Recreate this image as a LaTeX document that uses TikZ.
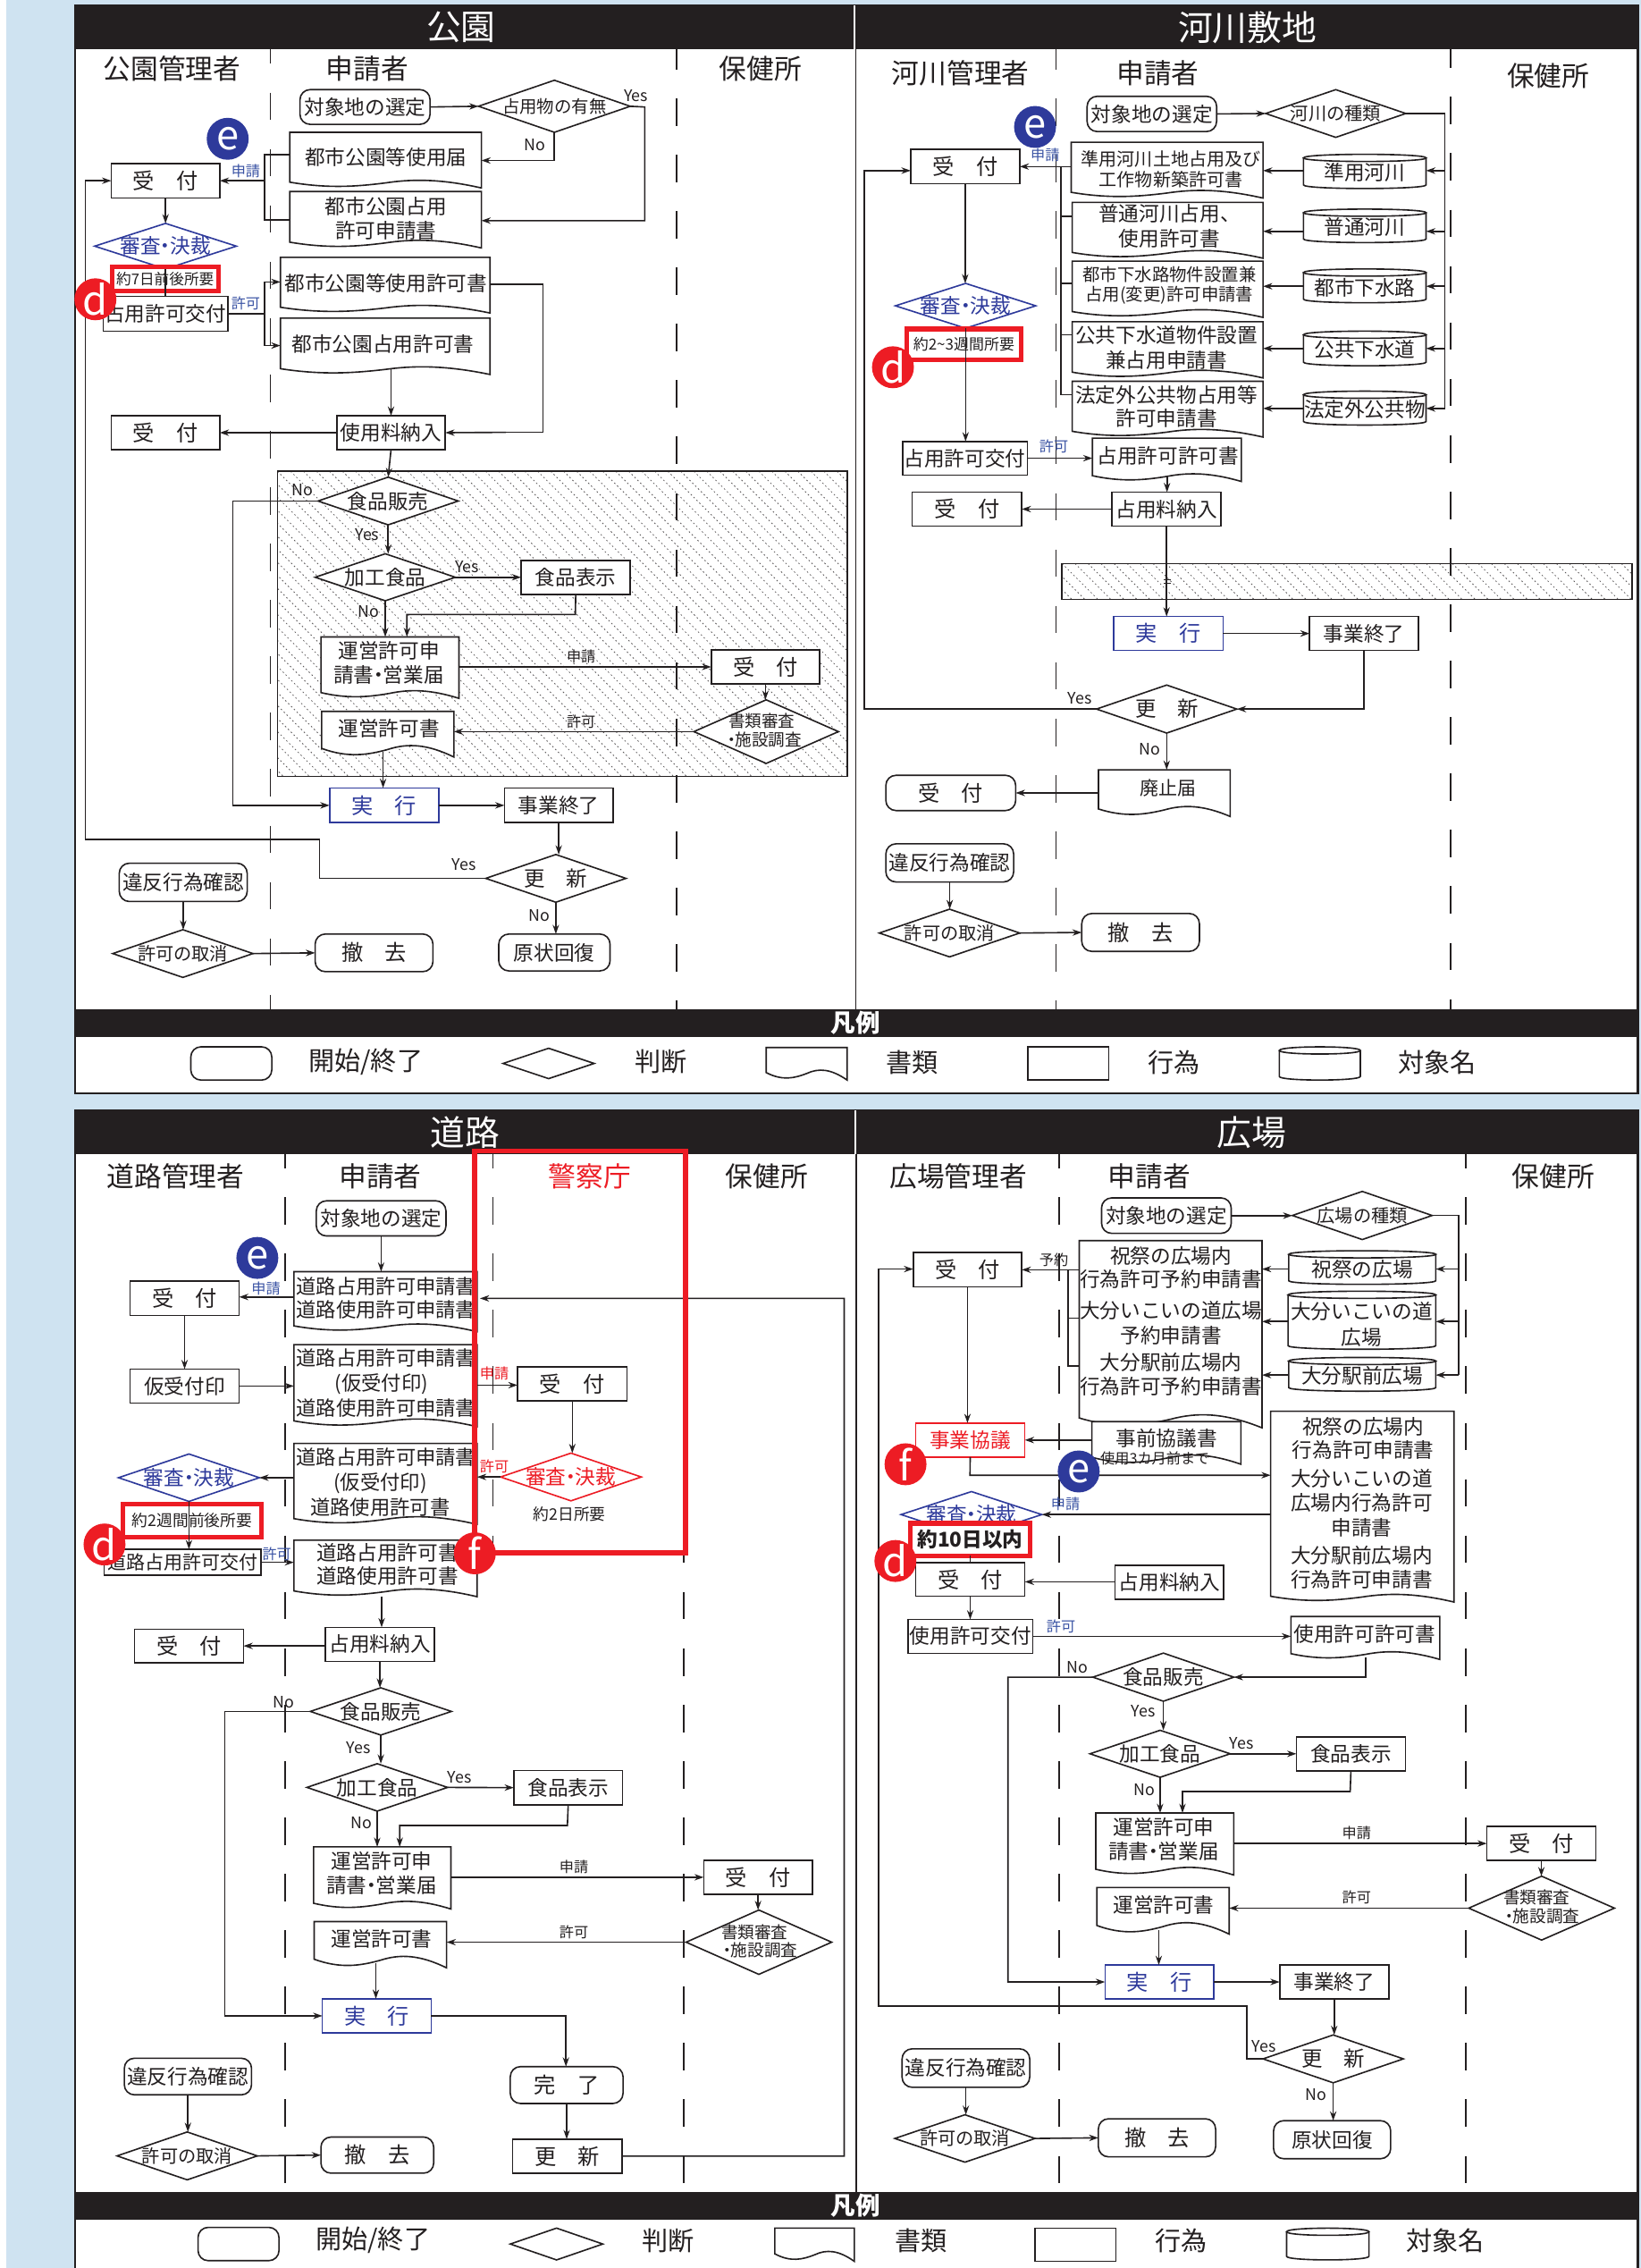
\documentclass[tikz,border=0pt]{standalone}
\usepackage{fontspec}
\setmainfont{Noto Sans CJK JP}
\usetikzlibrary{arrows.meta,calc,shapes.geometric}
\definecolor{ink}{HTML}{231F20}
\definecolor{bgblue}{HTML}{CFE3F1}
\definecolor{jblue}{HTML}{2E3A9B}
\definecolor{lblue}{HTML}{3A53A4}
\definecolor{jred}{HTML}{ED1C24}
\newcommand\fs[1]{\fontsize{\fpeval{#1*0.5}}{\fpeval{#1*0.6}}\selectfont}
\newcommand\ndot{\kern-.27em ・\kern-.27em }
\newcounter{tn}
\newcommand\tx[5][]{\stepcounter{tn}\node[txt,#1] (t\arabic{tn}) at (#2,#3) {\fs{#4}#5};}
\newcommand\bx[8][proc]{%
  \pgfmathsetmacro\WW{(#5-#3)*0.5}\pgfmathsetmacro\HH{(#6-#4)*0.5}%
  \node[#1,minimum width=\WW pt,minimum height=\HH pt] (#2) at ({(#3+#5)/2},{(#4+#6)/2}) {\fs{#7}#8};}
\newcommand\dm[8][dia]{%
  \pgfmathsetmacro\WW{(#5-#3)*0.5}\pgfmathsetmacro\HH{(#6-#4)*0.5}%
  \draw[#1] (#3,{(#4+#6)/2}) -- ({(#3+#5)/2},#4) -- (#5,{(#4+#6)/2}) -- ({(#3+#5)/2},#6) -- cycle;
  \node[#1,draw=none,fill=none,inner sep=0pt,outer sep=0pt,minimum width=\WW pt,minimum height=\HH pt] (#2) at ({(#3+#5)/2},{(#4+#6)/2}) {\fs{#7}#8};}
% document shape: [wave factor]{name}{x1}{y1}{x2}{y2}
\newcommand\dc[6][1]{%
  \pgfmathsetmacro\WW{(#5-#3)*0.5}\pgfmathsetmacro\HH{(#6-#4)*0.5}%
  \draw[shp] (#3,#4) -- (#5,#4) -- (#5,#6)
    .. controls ({#3+0.8*(#5-#3)},{#6-6*#1}) and ({#3+0.65*(#5-#3)},{#6-6.5*#1}) .. ({#3+0.5*(#5-#3)},{#6-3.5*#1})
    .. controls ({#3+0.35*(#5-#3)},{#6-1*#1}) and ({#3+0.2*(#5-#3)},{#6+0.5*#1}) .. (#3,{#6-4*#1}) -- cycle;
  \node[inner sep=0pt,outer sep=0pt,minimum width=\WW pt,minimum height=\HH pt] (#2) at ({(#3+#5)/2},{(#4+#6)/2}) {};}
% cylinder: {name}{x1}{y1}{x2}{y2}{size}{text}
\newcommand\cy[7]{%
  \pgfmathsetmacro\WW{(#4-#2)*0.5}\pgfmathsetmacro\HH{(#5-#3)*0.5}%
  \draw[shp] (#2,#3+2.5) -- (#2,#5-2.5) .. controls (#2,#5+0.8) and (#4,#5+0.8) .. (#4,#5-2.5) -- (#4,#3+2.5);
  \draw[shp] (#2,#3+2.5) .. controls (#2,#3-0.8) and (#4,#3-0.8) .. (#4,#3+2.5) .. controls (#4,#3+5.8) and (#2,#3+5.8) .. cycle;
  \node[inner sep=0pt,outer sep=0pt,text=ink,align=center,minimum width=\WW pt,minimum height=\HH pt] (#1) at ({(#2+#4)/2},{(#3+#5)/2+1}) {\fs{#6}#7};}
\newcommand\hatchbox[4]{%
  \fill[white] (#1,#2) rectangle (#3,#4);
  \begin{scope}
    \clip (#1,#2) rectangle (#3,#4);
    \foreach \i in {-216,-207,...,400}{
      \draw[ink!75,line width=.25pt,dash pattern=on .5pt off .9pt] ({#1+\i},#2) -- ({#1+\i+#4-#2},#4);}
  \end{scope}
  \draw[ink,line width=.5pt] (#1,#2) rectangle (#3,#4);}
\tikzset{
  txt/.style={inner sep=0pt,outer sep=0pt,text=ink,align=center},
  shp/.style={draw=ink,fill=white,line width=.5pt},
  proc/.style={draw=ink,fill=white,line width=.5pt,inner sep=0pt,outer sep=0pt,text=ink,align=center},
  rnd/.style={proc,rounded corners=3.5pt},
  dia/.style={draw=ink,fill=white,line width=.5pt,text=ink,align=center},
  bdia/.style={draw=jblue,fill=white,line width=.5pt,text=jblue,align=center},
  rdia/.style={draw=jred,fill=white,line width=.5pt,text=jred,align=center},
  bluebox/.style={proc,draw=jblue,text=jblue},
  redthin/.style={proc,draw=jred,text=jred},
  redbox/.style={proc,draw=jred,line width=1.6pt},
  ln/.style={draw=ink,line width=.5pt},
  ar/.style={ln,-{Stealth[length=3.2pt,width=2.2pt]}},
  dsh/.style={draw=ink,line width=.55pt,dash pattern=on 9.5pt off 10pt},
  circ/.style={circle,inner sep=0pt,outer sep=0pt,minimum size=14.5pt,text=white,font=\fontsize{14}{14}\selectfont},
}
\begin{document}
\begin{tikzpicture}[x=0.5pt,y=-0.5pt]
\useasboundingbox (0,0) rectangle (1135,1568.6);
\fill[white] (0,0) rectangle (1135,1568.6);
\fill[bgblue] (4.5,0) rectangle (1135,1568.6);
% frames
\fill[white] (52,4) rectangle (1133,756);
\fill[white] (52,768) rectangle (1133,1568.6);
\draw[ink,line width=.7pt] (52,4) rectangle (1133,756);
\draw[ink,line width=.7pt] (52,1568.6) -- (52,768) -- (1133,768) -- (1133,1568.6);
\draw[ink,line width=.6pt] (592,4) -- (592,698);
\draw[ink,line width=.6pt] (592.5,768) -- (592.5,1516);
% hatching
\hatchbox{192}{326}{586}{537}
\hatchbox{734.7}{389.8}{1129}{414.5}
% swimlane separators
\draw[dsh] (187,25) -- (187,698);
\draw[dsh] (468,29) -- (468,698);
\draw[dsh] (730.5,29) -- (730.5,698);
\draw[dsh] (1003.3,28) -- (1003.3,698);
\draw[dsh] (197.2,789) -- (197.2,1516);
\draw[dsh] (341,789) -- (341,1070);
\draw[dsh] (473,789) -- (473,1516);
\draw[dsh] (732.6,789) -- (732.6,1516);
\draw[dsh] (1014,789) -- (1014,1516);
% header bars
\fill[ink] (52,4) rectangle (1133,34);
\fill[ink] (52,698) rectangle (1133,717);
\fill[ink] (52,768) rectangle (1133,798);
\fill[ink] (52,1516) rectangle (1133,1535.5);
\draw[white,line width=.6pt] (591.3,4) -- (591.3,34);
\draw[white,line width=.6pt] (591.8,768) -- (591.8,798);
\tx[text=white]{319}{19}{24}{公園}
\tx[text=white]{863}{19}{24}{河川敷地}
\tx[text=white]{322}{783}{24}{道路}
\tx[text=white]{866}{783}{24}{広場}
\tx[text=white,font=\bfseries]{592}{707.5}{17}{凡例}
\tx[text=white,font=\bfseries]{592}{1525.5}{17}{凡例}
% legends
\bx[rnd]{la1}{132}{724}{188}{747}{14}{}
\tx{253}{734.5}{18}{開始/終了}
\dm{la2}{348}{725}{411}{746}{14}{}
\tx{457}{734.5}{18}{判断}
\dc[1.3]{la3}{530}{724.5}{586}{747}
\tx{631}{734.5}{18}{書類}
\bx{la4}{711}{724}{767}{747}{14}{}
\tx{812}{734.5}{18}{行為}
\cy{la5}{885}{724}{941}{747}{14}{}
\tx{994}{734.5}{18}{対象名}
\bx[rnd]{lb1}{137}{1540.5}{193}{1563.5}{14}{}
\tx{258}{1549.5}{18}{開始/終了}
\dm{lb2}{353}{1541}{417}{1563}{14}{}
\tx{462}{1549.5}{18}{判断}
\dc[1.3]{lb3}{536}{1541}{591}{1564}
\tx{637}{1549.5}{18}{書類}
\bx{lb4}{716}{1541}{772}{1564}{14}{}
\tx{817}{1549.5}{18}{行為}
\cy{lb5}{890}{1541}{947}{1563}{14}{}
\tx{1000}{1549.5}{18}{対象名}
% =================== 公園
\tx{119}{47.5}{19}{公園管理者}
\tx{254}{47.5}{19}{申請者}
\tx{526}{47.5}{19}{保健所}
\bx[rnd]{a1}{207.5}{62}{297.5}{86}{14}{対象地の選定}
\dm{a2}{331}{55.5}{436}{91.5}{12}{占用物の有無}
\dc{a3}{200.5}{91.5}{333}{130}
\tx{267}{109}{14}{都市公園等使用届}
\dc{a4}{200.5}{132.5}{333}{171.5}
\tx{267}{143}{14}{都市公園占用}
\tx{267}{159.5}{14}{許可申請書}
\bx{a5}{77}{113}{152}{137}{15}{受　付}
\dm[bdia]{a6}{65.5}{154.5}{163.5}{186}{14}{審査\ndot 決裁}
\bx[redbox]{a7}{77.5}{184.5}{151}{201.5}{10.3}{約7日前後所要}
\bx{a8}{71.5}{205}{157.5}{229}{14}{占用許可交付}
\dc{a9}{194}{178}{339}{216.5}
\tx{267}{196}{14}{都市公園等使用許可書}
\dc{a10}{194}{220}{339}{259}
\tx{265}{238}{14}{都市公園占用許可書}
\bx{a11}{233}{287.5}{308}{311}{14}{使用料納入}
\bx{a12}{77}{287.5}{152}{311}{15}{受　付}
\dm{a13}{220}{330}{317}{363}{14}{食品販売}
\dm{a14}{218}{383}{315}{415.5}{14}{加工食品}
\bx{a15}{360.5}{387.5}{436}{411}{14}{食品表示}
\dc{a16}{222}{440.5}{317.5}{483}
\tx{269}{450}{14}{運営許可申}
\tx{269}{466.5}{14}{請書\ndot 営業届}
\bx{a17}{492}{449.5}{567}{473}{15}{受　付}
\dm{a18}{480}{484}{580}{528}{11.5}{}
\tx{527}{498.5}{11.5}{書類審査}
\tx{529}{511.5}{11.5}{\ndot 施設調査}
\dc[1.5]{a19}{222.5}{492}{314}{523.6}
\tx{269}{504}{14}{運営許可書}
\bx[bluebox]{a20}{228}{545}{303.5}{569}{15}{実　行}
\bx{a21}{349}{545}{424}{569}{14}{事業終了}
\dm{a22}{336}{591}{433}{624}{14.5}{更　新}
\bx[rnd]{a23}{345}{646}{422}{671.5}{14}{原状回復}
\bx[rnd]{a24}{82.5}{597}{171}{623.5}{14}{違反行為確認}
\dm{a25}{78}{643}{175}{676}{12.5}{許可の取消}
\bx[rnd]{a26}{218}{646}{299.5}{672}{15}{撤　去}
\draw[ar] (a1.east) -- (a2.west);
\draw[ar] (a2.east) -- (446,74) -- (446,152.6) -- (a4.east |- 0,152.6);
\draw[ar] (a2.south) -- (a2.south |- 0,111) -- (a3.east |- 0,111);
\draw[ln] (a3.west |- 0,107) -- (183,107) -- (183,152) -- (a4.west |- 0,152);
\draw[ar] (183,125) -- (a5.east);
\draw[ar] (a5.south) -- (a6.north);
\draw[ln] (a6.south) -- (a8.north);
\draw[ln] (a8.east) -- (183,217);
\draw[ar] (a9.west |- 0,195) -- (183,195) -- (183,239) -- (a10.west |- 0,239);
\draw[ar] (183,195) -- (a9.west |- 0,195);
\draw[ln] (a9.east |- 0,196.5) -- (375.5,196.5) -- (375.5,299) -- (350,299);
\draw[ar] (350,299) -- (a11.east);
\draw[ar] (a11.north |- a10.south) ++(0,-4) -- (a11.north);
\draw[ar] (a11.west) -- (a12.east);
\draw[ar] (a11.south) -- (a13.north);
\draw[ar] (a13.west) -- (161,346.5) -- (161,557) -- (a20.west);
\draw[ar] (a13.south) -- (a13.south |- a14.north);
\draw[ar] (a14.east) -- (a15.west);
\draw[ar] (a14.south) -- (a14.south |- a16.north);
\draw[ar] (a15.south) -- (398,425) -- (281.5,425) -- (281.5,440.5);
\draw[ar] (a16.east |- a17.west) -- (a17.west);
\draw[ar] (a17.south) -- (a17.south |- a18.north);
\draw[ar] (a18.west) -- (a19.east |- a18.west);
\draw[ar] (265,520) -- (265,545);
\draw[ar] (a20.east) -- (a21.west);
\draw[ar] (a21.south) -- (a21.south |- a22.north);
\draw[ar] (a22.west) -- (221,607.5) -- (221,580.5) -- (59,580.5) -- (59,125) -- (a5.west);
\draw[ar] (a22.south) -- (a22.south |- a23.north);
\draw[ar] (a24.south) -- (a24.south |- a25.north);
\draw[ar] (a25.east) -- (a26.west);
\tx[text=lblue]{170}{118}{10}{申請}
\tx[text=lblue]{170}{210}{10}{許可}
\tx{440}{66}{11}{Yes}
\tx{370}{100}{11}{No}
\tx{209}{339}{11}{No}
\tx{254}{370}{11}{Yes}
\tx{323}{392}{11}{Yes}
\tx{255}{423}{11}{No}
\tx{402}{454}{10}{申請}
\tx{402}{499}{10}{許可}
\tx{321}{598}{11}{Yes}
\tx{373}{633}{11}{No}
% =================== 河川敷地
\tx{664.5}{50.5}{19}{河川管理者}
\tx{801}{50.5}{19}{申請者}
\tx{1071}{52.5}{19}{保健所}
\bx[rnd]{b1}{752}{66.6}{841.6}{91}{14}{対象地の選定}
\dm{b2}{875.5}{62}{972.5}{95}{12.5}{河川の種類}
\cy{b3}{901.7}{106.7}{986.5}{130.4}{14}{準用河川}
\cy{b4}{901.7}{144.6}{986.5}{167.8}{14}{普通河川}
\cy{b5}{901.7}{186}{986.5}{209.4}{14}{都市下水路}
\cy{b6}{901.7}{229}{986.5}{253}{14}{公共下水道}
\cy{b7}{901.7}{270.5}{986.5}{294}{14}{法定外公共物}
\dc{b8}{741}{98.4}{873.7}{137}
\tx{810}{110}{12.4}{準用河川土地占用及び}
\tx{810}{124.5}{12.4}{工作物新築許可書}
\dc{b9}{741.7}{140}{873.7}{178.6}
\tx{809}{148}{14}{普通河川占用、}
\tx{809}{165}{14}{使用許可書}
\dc{b10}{741.7}{180.6}{873.7}{219.5}
\tx{809}{190}{12}{都市下水路物件設置兼}
\tx{809}{204}{12}{占用(変更)許可申請書}
\dc{b11}{741.7}{222.5}{873.7}{261.4}
\tx{807}{232}{14}{公共下水道物件設置}
\tx{807}{249}{14}{兼占用申請書}
\dc{b12}{741.7}{263.7}{873.7}{302.3}
\tx{807}{273}{14}{法定外公共物占用等}
\tx{807}{289}{14}{許可申請書}
\bx{b13}{630}{103.4}{705.4}{127}{15}{受　付}
\dm[bdia]{b14}{619.4}{196}{716.5}{227}{14}{審査\ndot 決裁}
\bx[redbox]{b15}{627}{227.5}{706.5}{249}{10.5}{約2\textasciitilde3週間所要}
\bx{b16}{624.3}{305.3}{710.6}{328.5}{14}{占用許可交付}
\dc{b17}{755.7}{303}{858.7}{333}
\tx{808}{315}{14}{占用許可許可書}
\bx{b18}{769.3}{340.4}{844.7}{363.8}{14}{占用料納入}
\bx{b19}{631}{340.4}{706.8}{363.8}{15}{受　付}
\bx[bluebox]{b20}{770.3}{426.4}{846.1}{449.9}{15}{実　行}
\bx{b21}{905.9}{426.4}{981.3}{449.9}{14}{事業終了}
\dm{b22}{758.5}{473.8}{855.6}{507}{14.5}{更　新}
\dc[1.3]{b23}{759.9}{532.4}{851}{564.7}
\tx{808}{545}{13}{廃止届}
\bx[rnd]{b24}{612.8}{536.2}{702.6}{560.6}{15}{受　付}
\bx[rnd]{b25}{612.8}{583.6}{701.2}{610}{14}{違反行為確認}
\dm{b26}{608.3}{628.8}{705.4}{661.8}{12.5}{許可の取消}
\bx[rnd]{b27}{748.3}{631.8}{829.7}{658}{15}{撤　去}
\draw[ar] (b1.east) -- (b2.west);
\draw[ln] (b2.east) -- (999.5,78.5) -- (999.5,282.5);
\draw[ar] (999.5,118) -- (b3.east |- 0,118);
\draw[ar] (999.5,160) -- (b4.east |- 0,160);
\draw[ar] (999.5,198) -- (b5.east |- 0,198);
\draw[ar] (999.5,241) -- (b6.east |- 0,241);
\draw[ar] (999.5,282.5) -- (b7.east |- 0,282.5);
\draw[ar] (b3.west |- 0,118) -- (b8.east |- 0,118);
\draw[ar] (b4.west |- 0,160) -- (b9.east |- 0,160);
\draw[ar] (b5.west |- 0,198) -- (b10.east |- 0,198);
\draw[ar] (b6.west |- 0,241) -- (b11.east |- 0,241);
\draw[ar] (b7.west |- 0,282.5) -- (b12.east |- 0,282.5);
\draw[ar] (b8.west |- b13.east) -- (b13.east);
\draw[ln] (734,115) -- (734,273) -- (b12.west |- 0,273);
\draw[ln] (734,149.5) -- (b9.west |- 0,149.5);
\draw[ln] (734,196) -- (b10.west |- 0,196);
\draw[ln] (734,231.5) -- (b11.west |- 0,231.5);
\draw[ar] (b13.south) -- (b13.south |- b14.north);
\draw[ar] (b14.south) -- (b14.south |- b16.north);
\draw[ar] (b16.east) -- (b17.west |- b16.east);
\draw[ar] (807.3,329) -- (807.3,340.4);
\draw[ar] (b18.west) -- (b19.east);
\draw[ar] (b18.south) -- (b18.south |- b20.north);
\draw[ln] (805,401) -- (810,401);
\draw[ln] (805,403.5) -- (810,403.5);
\draw[ar] (b20.east) -- (b21.west);
\draw[ar] (b21.south) -- (b21.south |- b22.east) -- (b22.east);
\draw[ar] (b22.west) -- (597.8,490.4) -- (597.8,118) -- (b13.west |- 0,118);
\draw[ar] (b22.south) -- (b22.south |- b23.north);
\draw[ar] (b23.west |- b24.east) -- (b24.east);
\draw[ar] (b25.south) -- (b25.south |- b26.north);
\draw[ar] (b26.east) -- (b27.west);
\tx[text=lblue]{723}{107}{10}{申請}
\tx[text=lblue]{729}{309}{10}{許可}
\tx{747}{483}{11}{Yes}
\tx{795.5}{518}{11}{No}
% =================== 道路
\tx{121.5}{813.5}{19}{道路管理者}
\tx{263}{813.5}{19}{申請者}
\tx[text=jred]{408}{813.5}{19}{警察庁}
\tx{530.5}{813.5}{19}{保健所}
\bx[rnd]{c1}{218.8}{830.5}{308.5}{854.8}{14}{対象地の選定}
\dc{c2}{203.3}{879.5}{330}{921}
\tx{267}{889.5}{13.8}{道路占用許可申請書}
\tx{267}{906}{13.8}{道路使用許可申請書}
\bx{c3}{90}{886}{165.4}{909.8}{15}{受　付}
\bx{c4}{90}{946.9}{165.4}{970.3}{14}{仮受付印}
\dc{c5}{203.3}{930}{330}{986.7}
\tx{267}{939.5}{13.8}{道路占用許可申請書}
\tx{264}{957}{13.8}{(仮受付印)}
\tx{267}{974}{13.8}{道路使用許可申請書}
\bx{c6}{358}{945.3}{433.8}{968.8}{15}{受　付}
\dm[rdia]{c7}{346.3}{1005}{443.6}{1038}{14}{審査\ndot 決裁}
\tx{394}{1047}{11}{約2日所要}
\dc{c8}{203.3}{998.3}{330}{1054.3}
\tx{267}{1008}{13.8}{道路占用許可申請書}
\tx{263}{1026}{13.8}{(仮受付印)}
\tx{263}{1042.5}{13.8}{道路使用許可書}
\dm[bdia]{c9}{82}{1005.6}{179.4}{1038.4}{14}{審査\ndot 決裁}
\bx[redbox]{c10}{85}{1040.5}{181}{1063}{11}{約2週間前後所要}
\bx{c11}{72}{1071.5}{180.5}{1089.6}{13}{道路占用許可交付}
\dc{c12}{203.3}{1065.2}{330}{1104.3}
\tx{268}{1074}{14}{道路占用許可書}
\tx{268}{1090}{14}{道路使用許可書}
\bx{c13}{225.2}{1125.5}{300.5}{1149}{14}{占用料納入}
\bx{c14}{93}{1126.7}{168.4}{1150}{15}{受　付}
\dm{c15}{214.6}{1167.3}{312.3}{1200}{14}{食品販売}
\dm{c16}{212.3}{1219.8}{309.6}{1252.6}{14}{加工食品}
\bx{c17}{355.4}{1224.5}{430.7}{1248.2}{14}{食品表示}
\dc{c18}{216.9}{1277.3}{311.9}{1320.3}
\tx{264}{1287}{14}{運営許可申}
\tx{264}{1304}{14}{請書\ndot 営業届}
\bx{c19}{486.8}{1286.7}{562}{1310}{15}{受　付}
\dm{c20}{474.6}{1321}{575.3}{1365.5}{11.5}{}
\tx{522}{1336.4}{11.5}{書類審査}
\tx{526}{1349}{11.5}{\ndot 施設調査}
\dc[1.5]{c21}{217.3}{1329}{308.9}{1361}
\tx{264}{1341}{14}{運営許可書}
\bx[bluebox]{c22}{223}{1382.4}{298.3}{1406}{15}{実　行}
\bx[rnd]{c23}{353}{1429.3}{431}{1454.8}{15}{完　了}
\bx{c24}{354.6}{1479.5}{430.4}{1503}{15}{更　新}
\bx[rnd]{c25}{86}{1423.5}{174}{1448.8}{14}{違反行為確認}
\dm{c26}{81}{1474.5}{178}{1507.6}{12.5}{許可の取消}
\bx[rnd]{c27}{222}{1478}{300}{1503}{15}{撤　去}
\draw[ar] (c1.south) -- (c1.south |- c2.north);
\draw[ar] (c2.west |- 0,897) -- (c3.east |- 0,897);
\draw[ar] (c3.south) -- (c4.north);
\draw[ar] (c4.east) -- (c5.west |- c4.east);
\draw[ar] (c5.east |- 0,958) -- (c6.west |- 0,958);
\draw[ar] (c6.south) -- (c6.south |- c7.north);
\draw[ar] (c7.west) -- (c8.east |- c7.west);
\draw[ar] (c8.west |- c9.east) -- (c9.east);
\draw[ar] (c9.south) -- (c9.south |- c11.north);
\draw[ar] (c11.east) -- (c12.west |- c11.east);
\draw[ar] (264,1104) -- (264,1125.5);
\draw[ar] (c13.west |- c14.east) -- (c14.east);
\draw[ar] (c13.south) -- (c13.south |- c15.north);
\draw[ar] (c15.west) -- (155.6,1183.65) -- (155.6,1394.2) -- (c22.west);
\draw[ar] (c15.south) -- (c15.south |- c16.north);
\draw[ar] (c16.east) -- (c17.west);
\draw[ar] (c16.south) -- (c16.south |- c18.north);
\draw[ar] (c17.south) -- (392.5,1262.5) -- (276.5,1262.5) -- (276.5,1277.3);
\draw[ar] (c18.east |- c19.west) -- (c19.west);
\draw[ar] (c19.south) -- (c19.south |- c20.north);
\draw[ar] (c20.west) -- (c21.east |- c20.west);
\draw[ar] (260,1358) -- (260,1382.4);
\draw[ar] (c22.east) -- (391.5,1394.2) -- (391.5,1429.3);
\draw[ar] (c23.south) -- (c23.south |- c24.north);
\draw[ar] (c24.east) -- (584,1491.2) -- (584,898) -- (332,898);
\draw[ar] (c25.south) -- (c25.south |- c26.north);
\draw[ar] (c26.east) -- (c27.west);
\tx[text=lblue]{184}{891}{10}{申請}
\tx[text=lblue]{191.5}{1075}{10}{許可}
\tx[text=jred]{342}{950}{10}{申請}
\tx[text=jred]{342}{1014}{10}{許可}
\tx{196}{1177}{11}{No}
\tx{248}{1209}{11}{Yes}
\tx{318}{1229}{11}{Yes}
\tx{250}{1261}{11}{No}
\tx{397}{1291}{10}{申請}
\tx{397}{1336.5}{10}{許可}
% red frame of the police column
\node[draw=jred,line width=1.8pt,inner sep=0pt,minimum width=72.75pt,minimum height=139pt] (cpol) at (401.25,935) {};
% =================== 広場
\tx{663}{813.5}{19}{広場管理者}
\tx{795}{813.5}{19}{申請者}
\tx{1074.5}{813.5}{19}{保健所}
\bx[rnd]{g1}{762}{828.5}{851.7}{853}{14}{対象地の選定}
\dm{g2}{894}{824}{990.7}{857.3}{12.5}{広場の種類}
\cy{g3}{891.5}{865}{993.2}{888.3}{14}{祝祭の広場}
\cy{g4}{891}{893}{993.2}{933.2}{14}{}
\tx{942}{907}{14}{大分いこいの道}
\tx{942}{925}{14}{広場}
\cy{g5}{891.5}{938.8}{993.2}{962.2}{14}{大分駅前広場}
\dc[1.7]{g6}{746.6}{858}{873}{987.5}
\tx{810}{868.5}{14}{祝祭の広場内}
\tx{810}{885}{14}{行為許可予約申請書}
\tx{810}{906.5}{14}{大分いこいの道広場}
\tx{810}{923.5}{14}{予約申請書}
\tx{810}{942.5}{14}{大分駅前広場内}
\tx{810}{959}{14}{行為許可予約申請書}
\bx{g7}{631.7}{866.4}{706.8}{890}{15}{受　付}
\bx[redthin]{g8}{633.4}{984.2}{708.9}{1007.7}{14}{事業協議}
\dc[1.2]{g9}{755.3}{983.2}{858.4}{1012.7}
\tx{807}{995}{14}{事前協議書}
\tx{799}{1008.5}{10}{使用3カ月前まで}
\dc{g10}{879}{976}{1005.8}{1108}
\tx{943}{986.5}{14}{祝祭の広場内}
\tx{943}{1003}{14}{行為許可申請書}
\tx{942}{1022.5}{14}{大分いこいの道}
\tx{942}{1039.5}{14}{広場内行為許可}
\tx{942}{1056.5}{14}{申請書}
\tx{942}{1076}{14}{大分駅前広場内}
\tx{942}{1092.5}{14}{行為許可申請書}
\dm[bdia]{g11}{623.3}{1031.6}{720.7}{1063.4}{14}{審査\ndot 決裁}
\bx[redbox]{g12}{629.5}{1053.5}{712.8}{1076}{14}{\bfseries 約10日以内}
\bx{g13}{633.4}{1080.8}{708.9}{1104}{15}{受　付}
\bx{g14}{771.4}{1082.6}{846.5}{1106}{14}{占用料納入}
\bx{g15}{628.2}{1120}{714.4}{1143.4}{14}{使用許可交付}
\dc{g16}{893}{1118}{996}{1147.7}
\tx{944}{1130}{14}{使用許可許可書}
\dm{g17}{756}{1143.3}{853.5}{1176.6}{14}{食品販売}
\dm{g18}{754}{1196.7}{851}{1229.2}{14}{加工食品}
\bx{g19}{896.8}{1201.3}{972.2}{1224.8}{14}{食品表示}
\dc{g20}{758}{1253.9}{853.5}{1296.8}
\tx{805}{1263.5}{14}{運営許可申}
\tx{805}{1280.5}{14}{請書\ndot 営業届}
\bx{g21}{1028.5}{1263.3}{1104}{1286.7}{15}{受　付}
\dm{g22}{1016}{1297.6}{1116.8}{1341.8}{11.5}{}
\tx{1063}{1312.5}{11.5}{書類審査}
\tx{1067}{1325}{11.5}{\ndot 施設調査}
\dc[1.5]{g23}{758.8}{1305.4}{850.3}{1337.7}
\tx{805}{1317.5}{14}{運営許可書}
\bx[bluebox]{g24}{764.4}{1359}{839.8}{1382.5}{15}{実　行}
\bx{g25}{885.2}{1359}{960.7}{1382.5}{14}{事業終了}
\dm{g26}{873.7}{1407.4}{970.8}{1440.5}{14.5}{更　新}
\bx[rnd]{g27}{881}{1466.7}{962}{1493}{14}{原状回復}
\bx[rnd]{g28}{624}{1417}{712.3}{1443.6}{14}{違反行為確認}
\dm{g29}{619}{1462.6}{716}{1495.4}{12.5}{許可の取消}
\bx[rnd]{g30}{759.8}{1465.4}{840.9}{1491.7}{15}{撤　去}
\draw[ar] (g1.east) -- (g2.west |- g1.east);
\draw[ln] (g2.east) -- (1009,840.65) -- (1009,951);
\draw[ar] (1009,877.7) -- (g3.east |- 0,877.7);
\draw[ar] (1009,914) -- (g4.east |- 0,914);
\draw[ar] (1009,951) -- (g5.east |- 0,951);
\draw[ar] (g3.west |- 0,877.7) -- (g6.east |- 0,877.7);
\draw[ar] (g4.west |- 0,914) -- (g6.east |- 0,914);
\draw[ar] (g5.west |- 0,951) -- (g6.east |- 0,951);
\draw[ar] (g6.west |- g7.east) -- (g7.east);
\draw[ln] (739,878) -- (739,944.6) -- (g6.west |- 0,944.6);
\draw[ln] (739,911.7) -- (g6.west |- 0,911.7);
\draw[ar] (g7.south) -- (g7.south |- g8.north);
\draw[ar] (g9.west |- g8.east) -- (g8.east);
\draw[ar] (g8.south) -- (671,1020.3) -- (g10.west |- 0,1020.3);
\draw[ar] (g10.west |- g11.east) -- (g11.east);
\draw[ln] (g12.south) -- (g12.south |- g13.north);
\draw[ar] (g14.west |- 0,1094) -- (g13.east |- 0,1094);
\draw[ar] (g13.south) -- (g13.south |- g15.north);
\draw[ar] (g15.east) -- (g16.west |- g15.east);
\draw[ar] (944.6,1146) -- (944.6,1159.95) -- (g17.east);
\draw[ar] (g17.west) -- (697.3,1159.95) -- (697.3,1370.7) -- (g24.west);
\draw[ar] (g17.south) -- (g17.south |- g18.north);
\draw[ar] (g18.east) -- (g19.west |- g18.east);
\draw[ar] (g18.south) -- (g18.south |- g20.north);
\draw[ar] (g19.south) -- (934,1239) -- (818,1239) -- (818,1253.9);
\draw[ar] (g20.east |- 0,1275) -- (g21.west |- 0,1275);
\draw[ar] (g21.south) -- (g21.south |- g22.north);
\draw[ar] (g22.west) -- (g23.east |- g22.west);
\draw[ar] (801.6,1335) -- (801.6,1359);
\draw[ar] (g24.east) -- (g25.west);
\draw[ar] (g25.south) -- (g25.south |- g26.north);
\draw[ar] (g26.west) -- (862.6,1423.95) -- (862.6,1387.4) -- (607.6,1387.4) -- (607.6,877.7) -- (g7.west |- 0,877.7);
\draw[ar] (g26.south) -- (g26.south |- g27.north);
\draw[ar] (g28.south) -- (g28.south |- g29.north);
\draw[ar] (g29.east) -- (g30.west);
\tx{729}{871.5}{10}{予約}
\tx[text=lblue]{737}{1040}{10}{申請}
\tx[text=lblue]{734}{1125}{10}{許可}
\tx{745.5}{1153}{11}{No}
\tx{791}{1183.5}{11}{Yes}
\tx{859}{1206}{11}{Yes}
\tx{791.5}{1238}{11}{No}
\tx{938.5}{1267.5}{10}{申請}
\tx{938.5}{1312.5}{10}{許可}
\tx{874.5}{1415}{11}{Yes}
\tx{910.5}{1449}{11}{No}
% badges
\node[circ,fill=jblue] (ce1) at (157.5,96) {e};
\node[circ,fill=jred] (cd1) at (66,207) {d};
\node[circ,fill=jblue] (ce2) at (716,87.8) {e};
\node[circ,fill=jred] (cd2) at (617.7,254) {d};
\node[circ,fill=jblue] (ce3) at (178,870) {e};
\node[circ,fill=jred] (cd3) at (72.3,1068.2) {d};
\node[circ,fill=jred] (cf3) at (328.5,1074.3) {f};
\node[circ,fill=jred] (cf4) at (626.4,1012.7) {f};
\node[circ,fill=jblue] (ce4) at (746.2,1017.7) {e};
\node[circ,fill=jred] (cd4) at (619.4,1079.6) {d};
\end{tikzpicture}
\end{document}
